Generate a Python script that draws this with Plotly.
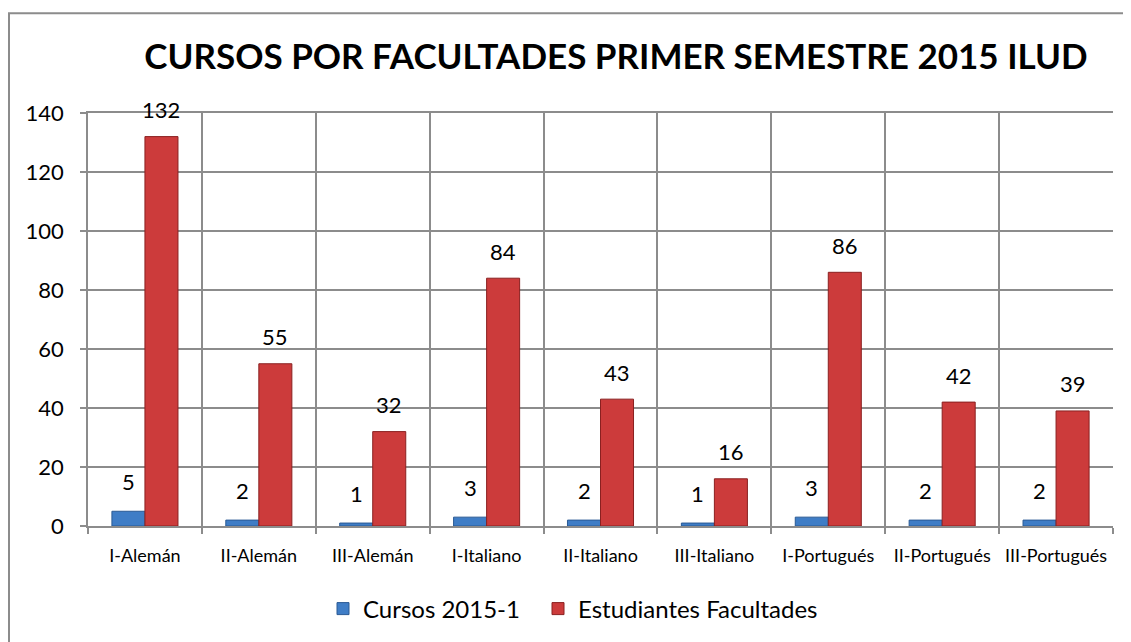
import plotly.graph_objects as go

categories = ["I-Alemán", "II-Alemán", "III-Alemán", "I-Italiano", "II-Italiano",
              "III-Italiano", "I-Portugués", "II-Portugués", "III-Portugués"]
cursos = [5, 2, 1, 3, 2, 1, 3, 2, 2]
estudiantes = [132, 55, 32, 84, 43, 16, 86, 42, 39]
series_names = ["Cursos 2015-1", "Estudiantes Facultades"]
title_text = "CURSOS POR FACULTADES PRIMER SEMESTRE 2015 ILUD"

FONT = "Lato"
OFF = 8  # page body margin
W, H = 1131 - OFF, 642 - OFF
L, R, T, B = 88 - OFF, 1113 - OFF, 113 - OFF, 527 - OFF
pw, ph = R - L, B - T


def px_x(x_img):
    return (x_img - OFF - L) / pw


fig = go.Figure()
fig.add_trace(go.Bar(x=categories, y=cursos, name=series_names[0], legend="legend",
                     showlegend=True,
                     marker=dict(color="#3F7DC6", line=dict(color="#2A5A94", width=1))))
fig.add_trace(go.Bar(x=categories, y=estudiantes, name=series_names[1], legend="legend2",
                     showlegend=True,
                     marker=dict(color="#CC3B3B", line=dict(color="#8A2020", width=1))))

annotations = []
for cat, v in zip(categories, cursos):
    annotations.append(dict(x=cat, y=v, text=str(v), showarrow=False, xref="x", yref="y",
                            xshift=-16.5, yshift=30, yanchor="middle",
                            font=dict(family=FONT, size=22, color="#000")))
for cat, v in zip(categories, estudiantes):
    annotations.append(dict(x=cat, y=v, text=str(v), showarrow=False, xref="x", yref="y",
                            xshift=16.5, yshift=27, yanchor="middle",
                            font=dict(family=FONT, size=22, color="#000")))

legend_common = dict(orientation="h", xanchor="left", y=-(609 - 527) / ph, yanchor="middle",
                     font=dict(family=FONT, size=24, color="#000"), itemwidth=30,
                     bgcolor="rgba(0,0,0,0)", visible=True)

fig.update_layout(
    width=W, height=H, showlegend=True,
    margin=dict(l=L, r=W - R, t=T, b=H - B, pad=0),
    paper_bgcolor="white", plot_bgcolor="white",
    barmode="group", bargap=0.42, bargroupgap=0,
    title=dict(text="<b>" + title_text + "</b>", xref="paper", x=px_x(616),
               xanchor="center", yref="container", y=1 - (57 - OFF) / H, yanchor="middle",
               font=dict(family=FONT, size=35, color="#000")),
    font=dict(family=FONT, color="#000"),
    xaxis=dict(type="category", tickson="boundaries", showgrid=True, gridcolor="#8C8C8C",
               gridwidth=1.5, showline=True, linecolor="#8C8C8C", linewidth=1.5,
               ticks="outside", ticklen=6, tickcolor="#8C8C8C", tickwidth=1.5,
               ticklabelstandoff=13,
               tickfont=dict(family=FONT, size=18, color="#000"), mirror=True),
    yaxis=dict(range=[0, 140], dtick=20, showgrid=True, gridcolor="#8C8C8C", gridwidth=1.5,
               showline=True, linecolor="#8C8C8C", linewidth=1.5, ticks="outside",
               ticklen=6, tickcolor="#8C8C8C", tickwidth=1.5, zeroline=False,
               ticklabelstandoff=12,
               tickfont=dict(family=FONT, size=22, color="#000")),
    legend=dict(x=px_x(323), **legend_common),
    legend2=dict(x=px_x(538), **legend_common),
    annotations=annotations,
    shapes=[dict(type="rect", xref="paper", yref="paper",
                 x0=(8 - OFF - L + 1) / pw, x1=(W + 10 - L) / pw,
                 y0=-(H + 10 - B) / ph, y1=(B - (14 - OFF) + 1) / ph,
                 line=dict(color="#8C8C8C", width=2), layer="below")],
)

fig.write_html("out.html")
